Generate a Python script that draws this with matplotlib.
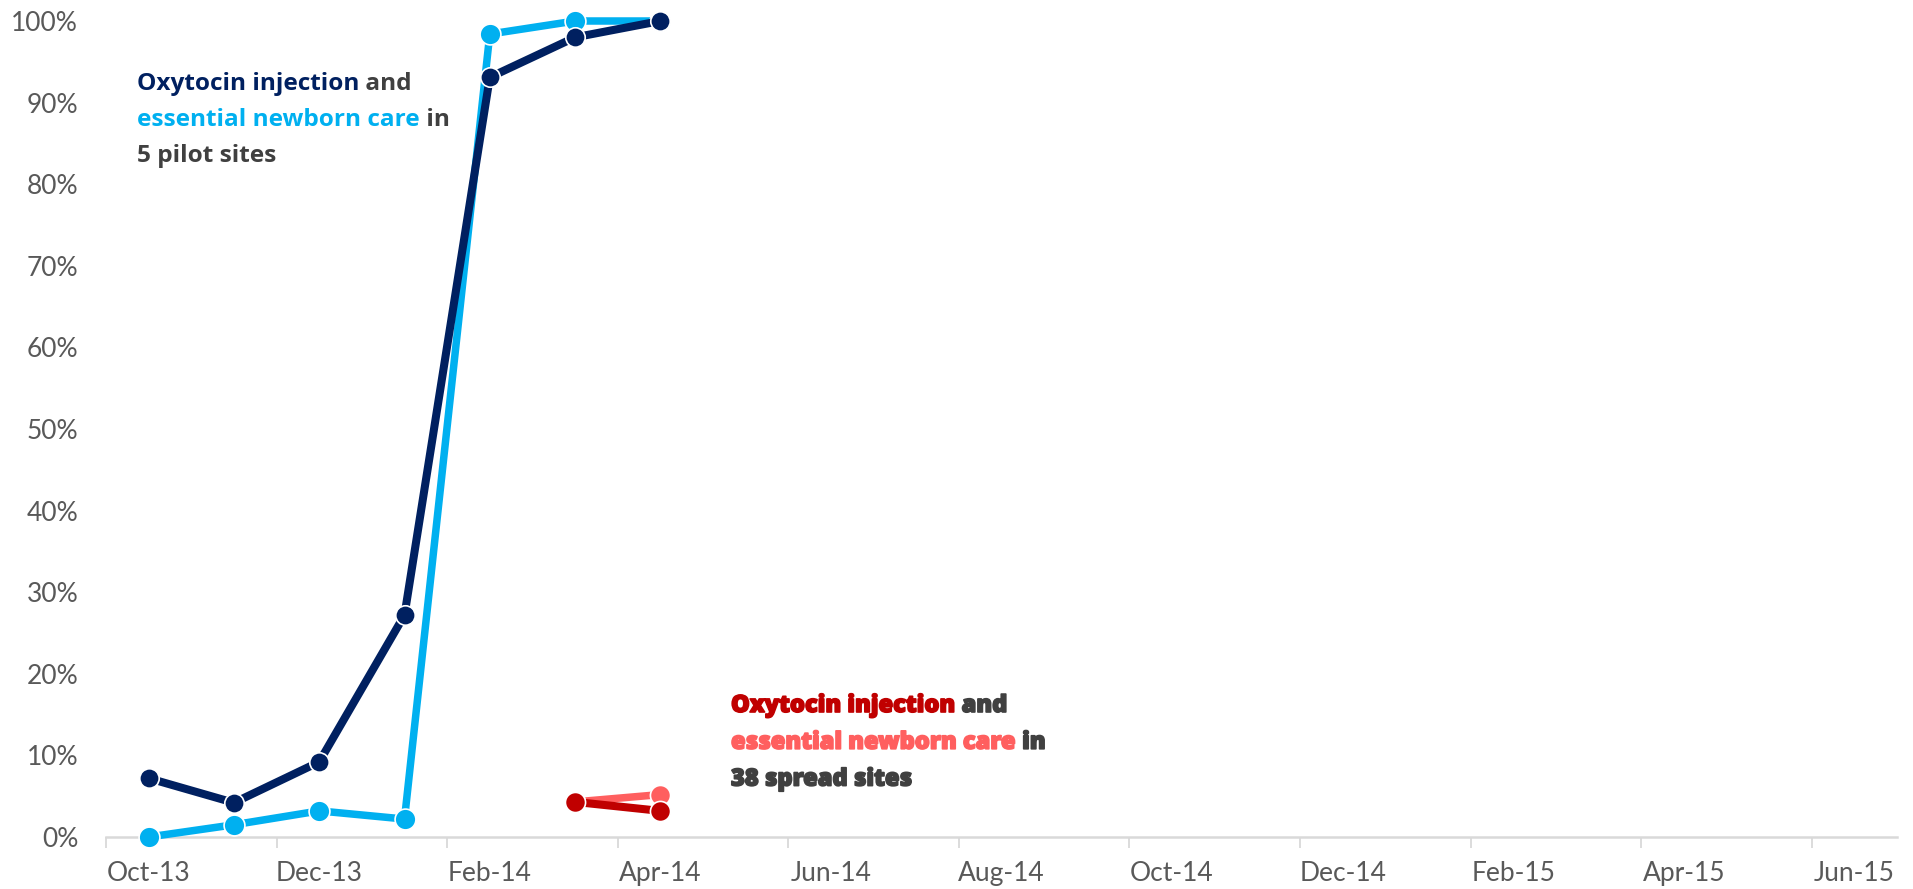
import numpy as np
import matplotlib
matplotlib.use("Agg")
import matplotlib.pyplot as plt
import matplotlib.patheffects as pe
from matplotlib.offsetbox import TextArea, HPacker, VPacker, AnnotationBbox
from matplotlib.ticker import FixedLocator, FuncFormatter

months = ["Oct-13", "Nov-13", "Dec-13", "Jan-14", "Feb-14", "Mar-14", "Apr-14",
          "May-14", "Jun-14", "Jul-14", "Aug-14", "Sep-14", "Oct-14", "Nov-14",
          "Dec-14", "Jan-15", "Feb-15", "Mar-15", "Apr-15", "May-15", "Jun-15"]

nan = np.nan
oxytocin_pilot = [7.2, 4.2, 9.2, 27.2, 93.1, 98.0, 100.0] + [nan] * 14
newborn_pilot = [0.0, 1.5, 3.2, 2.2, 98.4, 100.0, 100.0] + [nan] * 14
oxytocin_spread = [nan] * 5 + [4.3, 3.2] + [nan] * 14
newborn_spread = [nan] * 5 + [4.3, 5.2] + [nan] * 14

NAVY = "#002060"
LIGHT_BLUE = "#00B0F0"
DARK_RED = "#C00000"
SALMON = "#FF5F5F"
TEXT_GRAY = "#404040"
TICK_GRAY = "#595959"
AXIS_GRAY = "#D9D9D9"

W, H = 1913, 889
fig = plt.figure(figsize=(W / 100, H / 100), dpi=100)
ax = fig.add_axes([106 / W, 52 / H, (1897 - 106) / W, (837 - 21) / H])

x = np.arange(len(months))


def draw(values, color, lw, ms, z):
    v = np.array(values, dtype=float) / 100.0
    ax.plot(x, v, color=color, lw=lw, marker="o", ms=ms, mfc=color,
            mec="white", mew=1.2, zorder=z, clip_on=False,
            solid_joinstyle="round", solid_capstyle="round")


draw(newborn_pilot, LIGHT_BLUE, 5.4, 15.0, 3)
draw(oxytocin_pilot, NAVY, 5.8, 14.0, 4)
draw(newborn_spread, SALMON, 5.4, 14.5, 3)
draw(oxytocin_spread, DARK_RED, 5.8, 14.5, 4)

ax.set_xlim(-0.5, len(months) - 0.5)
ax.set_ylim(0, 1)

# y axis: percent labels, no line or grid
ax.yaxis.set_major_locator(FixedLocator(np.arange(0, 1.01, 0.1)))
ax.yaxis.set_major_formatter(FuncFormatter(lambda v, p: f"{v * 100:.0f}%"))
ax.tick_params(axis="y", length=0, pad=20, labelsize=19, labelcolor=TICK_GRAY)

# x axis: category labels every other month, ticks on category boundaries
ax.set_xticks(x[::2])
ax.set_xticklabels(months[::2])
ax.set_xticks(np.arange(-0.5, len(months) - 1, 2), minor=True)
ax.tick_params(axis="x", which="major", length=0, pad=17, labelsize=19,
               labelcolor=TICK_GRAY)
ax.tick_params(axis="x", which="minor", length=8, width=1.3, color=AXIS_GRAY)

for side in ["top", "right", "left"]:
    ax.spines[side].set_visible(False)
ax.spines["bottom"].set_color(AXIS_GRAY)
ax.spines["bottom"].set_linewidth(1.8)

for lab in ax.get_xticklabels() + ax.get_yticklabels():
    lab.set_family(["Lato", "DejaVu Sans"])


def rich_label(lines, xy_px, size, weight="bold", stroke=0.0, gap=8.5):
    rows = []
    for parts in lines:
        boxes = []
        for t, c in parts:
            props = dict(color=c, fontsize=size, fontweight=weight,
                         family=["Open Sans", "DejaVu Sans"])
            if stroke:
                props["path_effects"] = [pe.withStroke(linewidth=stroke,
                                                       foreground=c)]
            boxes.append(TextArea(t, textprops=props))
        rows.append(HPacker(children=boxes, align="baseline", pad=0, sep=0))
    box = VPacker(children=rows, align="left", pad=0, sep=gap)
    ab = AnnotationBbox(box, (xy_px[0] / W, 1 - xy_px[1] / H),
                        xycoords="figure fraction", box_alignment=(0, 1),
                        frameon=False, pad=0)
    fig.add_artist(ab)


rich_label([
    [("Oxytocin injection", NAVY), ("\u00a0and", TEXT_GRAY)],
    [("essential newborn care", LIGHT_BLUE), ("\u00a0in", TEXT_GRAY)],
    [("5 pilot sites", TEXT_GRAY)],
], (137, 72), 17.6)

rich_label([
    [("Oxytocin injection", DARK_RED), ("\u00a0and", TEXT_GRAY)],
    [("essential newborn care", SALMON), ("\u00a0in", TEXT_GRAY)],
    [("38 spread sites", TEXT_GRAY)],
], (731, 693), 17, weight="heavy", stroke=1.2)

fig.savefig("out.png", dpi=100)
